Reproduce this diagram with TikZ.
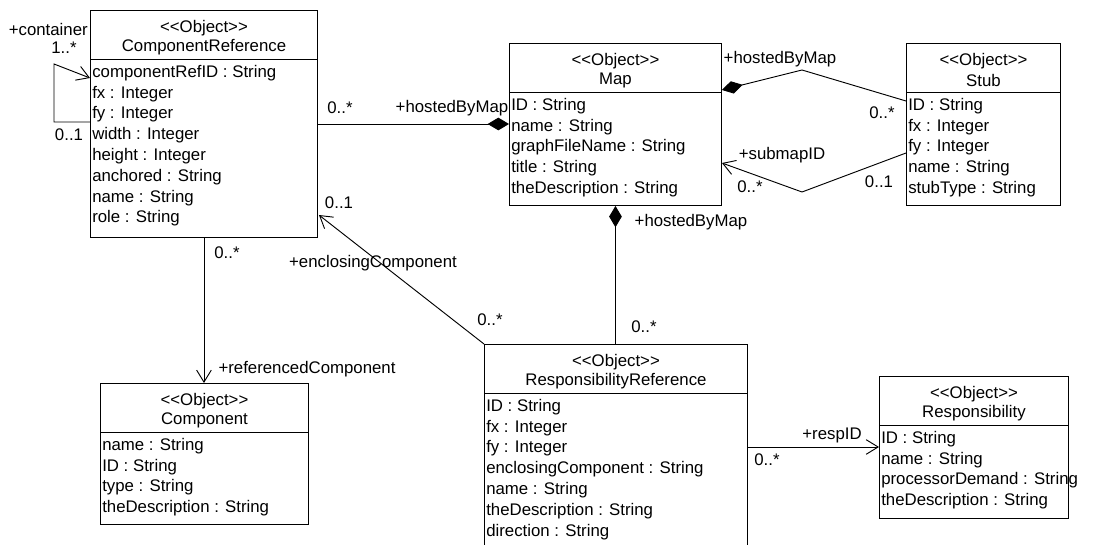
\documentclass[tikz,border=0pt]{standalone}
\usepackage{fontspec}
\newfontfamily\uf{Liberation Sans}
\usetikzlibrary{arrows.meta,calc}
\tikzset{
  cls/.style={draw, line width=0.7pt, anchor=north west, inner sep=0pt},
  lbl/.style={font=\uf\fontsize{12.6}{14}\selectfont, inner sep=0pt},
  attr/.style={lbl, anchor=west},
  conn/.style={line width=0.7pt},
  dia/.tip={Diamond[length=16pt,width=9.5pt]},
  opn/.tip={Straight Barb[length=9pt,width=11pt,line width=0.7pt]},
}
\newcommand\umlbox[7]{%
  \node[cls, minimum width=#4*0.75pt, minimum height=#5*0.75pt] (#1) at (#2,#3) {};
  \draw[conn] ($(#1.north west)+(0,49)$) -- ($(#1.north east)+(0,49)$);
  \node[lbl] (#1-st) at ($(#1.north)+(0,18)$) {<{}<Object>{}>};
  \node[lbl] (#1-nm) at ($(#1.north)+(0,37)$) {#6};
  \foreach \a [count=\i from 0] in {#7} {
    \node[attr] (#1-a\i) at ($(#1.north west)+(2,63+20.8*\i)$) {\a};
  }%
}
\begin{document}
\begin{tikzpicture}[x=0.75pt,y=-0.75pt]
\useasboundingbox (0,0) rectangle (1110,545);
\umlbox{cref}{90}{10}{227}{227}{ComponentReference}{componentRefID : String,fx : Integer,fy : Integer,width : Integer,height : Integer,anchored : String,name : String,role : String}
\umlbox{map}{509}{43}{212}{162}{Map}{ID : String,name : String,graphFileName : String,title : String,theDescription : String}
\umlbox{stub}{906}{43}{154}{162}{Stub}{ID : String,fx : Integer,fy : Integer,name : String,stubType : String}
\umlbox{comp}{100}{383}{208}{141}{Component}{name : String,ID : String,type : String,theDescription : String}
\umlbox{rref}{484}{344}{263}{210}{ResponsibilityReference}{ID : String,fx : Integer,fy : Integer,enclosingComponent : String,name : String,theDescription : String,direction : String}
\umlbox{resp}{879}{376}{189}{142}{Responsibility}{ID : String,name : String,processorDemand : String,theDescription : String}

% self loop
\coordinate (lp1) at (54,122);
\coordinate (lp2) at (54,64);
\draw[conn,-opn] ($(cref.north west)+(0,112)$) -- (lp1) -- (lp2) -- ($(cref.north west)+(0,68)$);
\node[lbl, anchor=east] (l1) at (88,29) {+container};
\node[lbl] (l2) at (64,48) {1..*};
\node[lbl] (l3) at (69,135) {0..1};

% cref - map
\draw[conn,-dia] ($(cref.north east)+(0,114)$) -- ($(map.north west)+(0,81)$);
\node[lbl] (l4) at (340,108) {0..*};
\node[lbl] (l5) at (452,108) {+hostedByMap};

% map - stub
\coordinate (hb) at (802,70);
\draw[conn,dia-] ($(map.north east)+(0,47)$) -- (hb) -- ($(stub.north west)+(0,58)$);
\node[lbl] (l6) at (780,59) {+hostedByMap};
\node[lbl] (l7) at (882,113) {0..*};

% stub -> map submap
\coordinate (sm) at (802,192);
\draw[conn,-opn] ($(stub.north west)+(0,110)$) -- (sm) -- ($(map.north east)+(0,120)$);
\node[lbl] (l8) at (782,155) {+submapID};
\node[lbl] (l9) at (750,187) {0..*};
\node[lbl] (l10) at (879,182) {0..1};

% map - rref
\draw[conn,dia-] (map.south) -- (map.south |- rref.north);
\node[lbl] (l11) at (691,222) {+hostedByMap};
\node[lbl] (l12) at (644,327) {0..*};

% rref -> cref
\draw[conn,-opn] (rref.north west) -- ($(cref.north east)+(1,205)$);
\node[lbl] (l13) at (339,203) {0..1};
\node[lbl] (l14) at (373,263) {+enclosingComponent};
\node[lbl] (l15) at (490,320) {0..*};

% cref -> comp
\draw[conn,-opn] (cref.south) -- (cref.south |- comp.north);
\node[lbl] (l16) at (227,253) {0..*};
\node[lbl] (l17) at (307,369) {+referencedComponent};

% rref -> resp
\draw[conn,-opn] ($(rref.north east)+(0,103)$) -- ($(resp.north west)+(0,71)$);
\node[lbl] (l18) at (832,435) {+respID};
\node[lbl] (l19) at (767,460) {0..*};
\end{tikzpicture}
\end{document}
